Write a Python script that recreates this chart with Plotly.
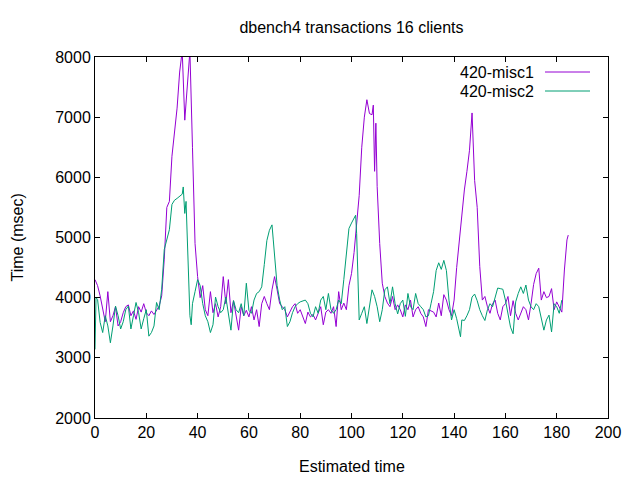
import plotly.graph_objects as go

# 420-misc1 (purple)
misc1_t = [0, 1, 2, 3, 4, 5, 6, 7, 8, 9, 10, 11, 12, 13, 14, 15, 16, 17, 18, 19,
           20, 21, 22, 23, 24, 25, 26, 27, 28, 29, 30, 31, 32, 33, 34, 35, 36, 37, 38, 39,
           40, 41, 42, 43, 44, 45, 46, 47, 48, 49, 50, 51, 52, 53, 54, 55, 56, 57, 58, 59,
           60, 61, 62, 63, 64, 65, 66, 67, 68, 69, 70, 71, 72, 73, 74, 75, 76, 77, 78, 79,
           80, 81, 82, 83, 84, 85, 86, 87, 88, 89, 90, 91, 92, 93, 94, 95, 96, 97, 98, 99,
           100, 101, 102, 103, 104, 105, 106, 107, 108, 108.5, 109, 109.5, 110, 111, 112, 113, 114, 115, 116, 117,
           118, 119, 120, 121, 122, 123, 124, 125, 126, 127, 128, 129, 130, 131, 132, 133, 134, 135, 136, 137,
           138, 139, 140, 141, 142, 143, 144, 145, 146, 147, 148, 149, 150, 151, 152, 153, 154, 155, 156, 157,
           158, 159, 160, 161, 162, 163, 164, 165, 166, 167, 168, 169, 170, 171, 172, 173, 174, 175, 176, 177,
           178, 179, 180, 181, 182, 183, 183.5, 184, 184.5]
misc1_ms = [4300, 4200, 4030, 3800, 3600, 4100, 3600, 3700, 3850, 3530, 3600, 3750, 3850, 3880, 3700, 3780, 3640, 3850, 3760, 3900,
            3750, 3700, 3780, 3720, 3800, 3860, 4030, 4640, 5500, 5600, 6350, 6800, 7150, 7750, 8100, 6950, 7450, 8100, 6500, 4900,
            4350, 4000, 4200, 3800, 3700, 4100, 3750, 3900, 3680, 3850, 4350, 3900, 4300, 3750, 3950, 3700, 3460, 3850, 3700, 3790,
            3680, 3850, 3630, 3800, 3520, 3900, 4020, 3900, 3800, 4130, 4350, 4130, 3900, 3850, 3800, 3680, 3760, 3850, 3900, 3740,
            3800, 3680, 3570, 3760, 3680, 3720, 3630, 3740, 3850, 3550, 3760, 3800, 3740, 3850, 3520, 4100, 3800, 3910, 3800, 4200,
            4400, 4750, 5200, 5700, 6500, 7000, 7290, 7060, 7040, 7200, 6100, 6900, 5850, 4900, 4240, 4020, 3910, 3850, 4020, 3800,
            3880, 3800, 3680, 3880, 3800, 3960, 3680, 3800, 3850, 3740, 3680, 3520, 3800, 3780, 3760, 3680, 3910, 3700, 4050, 3960,
            3800, 3700, 3960, 4500, 4960, 5400, 5790, 6100, 6450, 7070, 5950, 5500, 4520, 3960, 4020, 3850, 3740, 3900, 3960, 3740,
            3630, 3850, 3900, 4020, 3700, 3950, 3740, 3630, 3740, 3850, 3800, 3630, 3900, 4220, 4400, 4490, 3960, 4100, 4000, 4020,
            4150, 3800, 3930, 3850, 3760, 4460, 4740, 4960, 5040]

# 420-misc2 (green)
misc2_t = [0, 0.4, 1, 2, 3, 4, 5, 6, 7, 8, 9, 10, 11, 12, 13, 14, 15, 16, 17, 18,
           19, 20, 21, 22, 23, 24, 25, 26, 27, 28, 29, 30, 31, 32, 33, 34, 34.4, 35, 35.5, 36,
           36.5, 37, 37.5, 38, 39, 40, 41, 42, 43, 44, 45, 46, 47, 48, 49, 50, 51, 52, 53, 54,
           55, 56, 57, 58, 59, 60, 61, 62, 63, 64, 65, 66, 67, 68, 69, 69.5, 70, 71, 72, 73,
           74, 75, 76, 77, 78, 79, 80, 81, 82, 83, 84, 85, 86, 87, 88, 89, 90, 91, 92, 93,
           94, 95, 96, 97, 98, 99, 100, 101, 101.6, 102, 102.6, 103, 104, 105, 106, 107, 108, 109, 110, 111,
           112, 113, 114, 115, 116, 117, 118, 119, 120, 121, 122, 123, 124, 125, 126, 127, 128, 129, 130, 131,
           132, 133, 134, 135, 136, 137, 138, 139, 140, 141, 142, 142.5, 143, 144, 145, 146, 147, 148, 149, 150,
           151, 152, 153, 154, 155, 156, 157, 158, 159, 160, 161, 162, 163, 164, 165, 166, 167, 168, 169, 170,
           171, 172, 173, 174, 175, 176, 177, 178, 179, 180, 181, 182]
misc2_ms = [3140, 4000, 3970, 3590, 3420, 3700, 3530, 3250, 3530, 3860, 3700, 3480, 3600, 3800, 3860, 3480, 3700, 3920, 3750, 3480,
            3650, 3800, 3360, 3420, 3530, 3920, 3800, 4140, 4800, 4970, 5130, 5550, 5620, 5650, 5690, 5720, 5840, 5400, 5600, 4900,
            4500, 3700, 3550, 3900, 4100, 4300, 4200, 3900, 3700, 3600, 3420, 3550, 4010, 3850, 3750, 3800, 4010, 3700, 3460, 3950,
            3800, 3750, 3900, 3700, 4240, 3790, 3740, 3960, 4070, 4100, 4180, 4550, 4950, 5120, 5210, 4960, 4740, 4200, 3960, 3800,
            3850, 3520, 3600, 3750, 3850, 3900, 3930, 3950, 3960, 3900, 3740, 3680, 3850, 3740, 3960, 4020, 3800, 4070, 3800, 3740,
            3800, 3960, 3900, 4300, 4750, 5150, 5240, 5330, 5370, 5070, 3960, 3630, 3740, 3850, 3570, 3850, 4130, 4020, 3850, 3600,
            3800, 4130, 4180, 3900, 4180, 3900, 3730, 3900, 3960, 3690, 4070, 3850, 3800, 4070, 3900, 3850, 3800, 3680, 3700, 3900,
            4100, 4450, 4580, 4470, 4620, 4450, 3960, 3630, 3800, 3650, 3460, 3350, 3630, 3620, 3700, 3800, 4010, 4060, 3950, 3800,
            3700, 3620, 3800, 3900, 3850, 4000, 4160, 4150, 4140, 3960, 3750, 3510, 3400, 3930, 4070, 4180, 4070, 4210, 3960, 3850,
            3800, 3900, 3850, 3630, 3460, 3630, 3710, 3430, 3900, 3850, 3740, 3960]

series_names = ["420-misc1", "420-misc2"]
series_colors = ["#9400D3", "#009E73"]

FONT = "Liberation Sans, Arial, sans-serif"

fig = go.Figure()
fig.add_trace(go.Scatter(x=misc1_t, y=misc1_ms, mode="lines", name=series_names[0],
                         line=dict(color=series_colors[0], width=1)))
fig.add_trace(go.Scatter(x=misc2_t, y=misc2_ms, mode="lines", name=series_names[1],
                         line=dict(color=series_colors[1], width=1)))

axis_style = dict(showgrid=False, zeroline=False, showline=True, linecolor="black",
                  linewidth=1, mirror="ticks", ticks="inside", ticklen=5,
                  tickcolor="black", tickfont=dict(family=FONT, size=16, color="black"))

fig.update_layout(
    width=640, height=480,
    margin=dict(l=95, r=32, t=57, b=62),
    paper_bgcolor="white", plot_bgcolor="white",
    showlegend=False,
    font=dict(family=FONT, size=16, color="black"),
    title=dict(text="dbench4 transactions 16 clients", x=0.5, xref="paper",
               y=1 - 27 / 480, yanchor="middle", font=dict(family=FONT, size=16)),
    xaxis=dict(range=[0, 200], dtick=20, **axis_style),
    yaxis=dict(range=[2000, 8000], dtick=1000, **axis_style),
)

# axis titles
fig.add_annotation(text="Estimated time", xref="paper", yref="paper", x=0.5, y=-48 / 361,
                   yanchor="middle", showarrow=False)
fig.add_annotation(text="Time (msec)", xref="paper", yref="paper", x=-78 / 513, y=0.5,
                   textangle=-90, xanchor="center", showarrow=False)

# gnuplot-style key: text first, line sample on the right
key_rows = [1 - 15 / 361, 1 - 34 / 361]
for name, color, ky in zip(series_names, series_colors, key_rows):
    fig.add_annotation(text=name, xref="paper", yref="paper", x=(458 - 95) / 513, y=ky,
                       xanchor="left", yanchor="middle", showarrow=False)
    fig.add_shape(type="line", xref="paper", yref="paper",
                  x0=(545 - 95) / 513, x1=(590 - 95) / 513, y0=ky, y1=ky,
                  line=dict(color=color, width=1))

fig.write_html("out.html", config={"displayModeBar": False},
               post_script="document.body.style.margin='0';")
